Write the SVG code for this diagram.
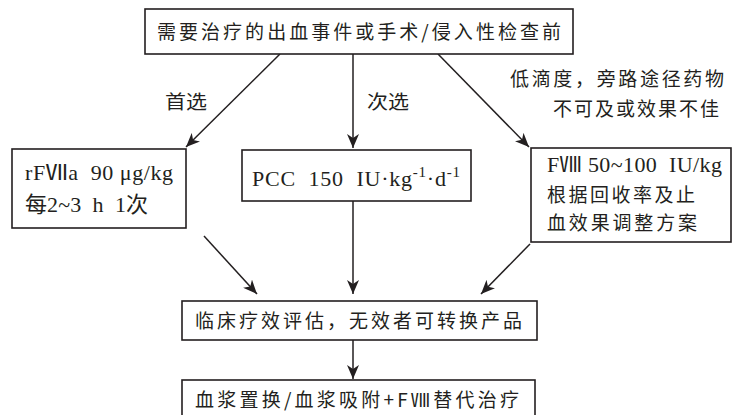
<svg xmlns="http://www.w3.org/2000/svg" width="734" height="415" viewBox="0 0 734 415">
<defs>
<style>
.box{fill:#fff;stroke:#231f20;stroke-width:1.6}
.t{font-family:"Liberation Serif","Noto Sans CJK SC",serif;font-size:22px;fill:#231f20;white-space:pre}
.c{font-family:"Noto Sans CJK SC","Liberation Serif",sans-serif;font-size:19px;fill:#231f20}
.ln{stroke:#231f20;stroke-width:1.5;fill:none;marker-end:url(#ah)}
</style>
<marker id="ah" markerUnits="userSpaceOnUse" markerWidth="16" markerHeight="12" refX="14" refY="6" orient="auto">
<path d="M0,0 L14,6 L0,12 L4,6 Z" fill="#231f20"/>
</marker>
</defs>
<rect width="734" height="415" fill="#fff"/>
<g id="connectors">
<line class="ln" x1="280" y1="54" x2="186" y2="147"/>
<line class="ln" x1="353" y1="54" x2="353" y2="148"/>
<line class="ln" x1="438" y1="54" x2="529" y2="147"/>
<line class="ln" x1="204" y1="236" x2="257" y2="294"/>
<line class="ln" x1="353" y1="201" x2="353" y2="294"/>
<line class="ln" x1="530" y1="244" x2="481" y2="294"/>
<line class="ln" x1="353" y1="340" x2="353" y2="379"/>
<text class="c" x="165" y="109" textLength="42" lengthAdjust="spacingAndGlyphs">首选</text>
<text class="c" x="367" y="109" textLength="42" lengthAdjust="spacingAndGlyphs">次选</text>
<text class="c" x="510" y="86" textLength="214" lengthAdjust="spacing">低滴度，旁路途径药物</text>
<text class="c" x="553" y="116" textLength="166" lengthAdjust="spacing">不可及或效果不佳</text>
</g>
<g id="n-top">
<rect class="box" x="145" y="9" width="428" height="45"/>
<text class="c" x="157" y="39" textLength="404" lengthAdjust="spacing">需要治疗的出血事件或手术/侵入性检查前</text>
</g>
<g id="n-rfviia">
<rect class="box" x="12" y="149" width="174" height="79"/>
<text class="t" x="25" y="180" textLength="148" lengthAdjust="spacing">rFⅦa  90 μg/kg</text>
<text class="t" x="25" y="212" textLength="123" lengthAdjust="spacing">每2~3  h  1次</text>
</g>
<g id="n-pcc">
<rect class="box" x="242" y="150" width="229" height="51"/>
<text class="t" x="252" y="186" textLength="208" lengthAdjust="spacing">PCC  150  IU·kg<tspan dy="-9" font-size="15">-1</tspan><tspan dy="9">·d</tspan><tspan dy="-9" font-size="15">-1</tspan></text>
</g>
<g id="n-fviii">
<rect class="box" x="531" y="148" width="200" height="94"/>
<text class="t" x="547" y="172" textLength="175" lengthAdjust="spacing">FⅧ 50~100  IU/kg</text>
<text class="c" x="547" y="202" textLength="148" lengthAdjust="spacing">根据回收率及止</text>
<text class="c" x="547" y="230" textLength="150" lengthAdjust="spacing">血效果调整方案</text>
</g>
<g id="n-eval">
<rect class="box" x="182" y="301" width="355" height="39"/>
<text class="c" x="195" y="328" textLength="327" lengthAdjust="spacing">临床疗效评估，无效者可转换产品</text>
</g>
<g id="n-plasma">
<rect class="box" x="182" y="380" width="353" height="40"/>
<text class="c" x="195" y="407" textLength="324" lengthAdjust="spacing">血浆置换/血浆吸附+FⅧ替代治疗</text>
</g>
</svg>
